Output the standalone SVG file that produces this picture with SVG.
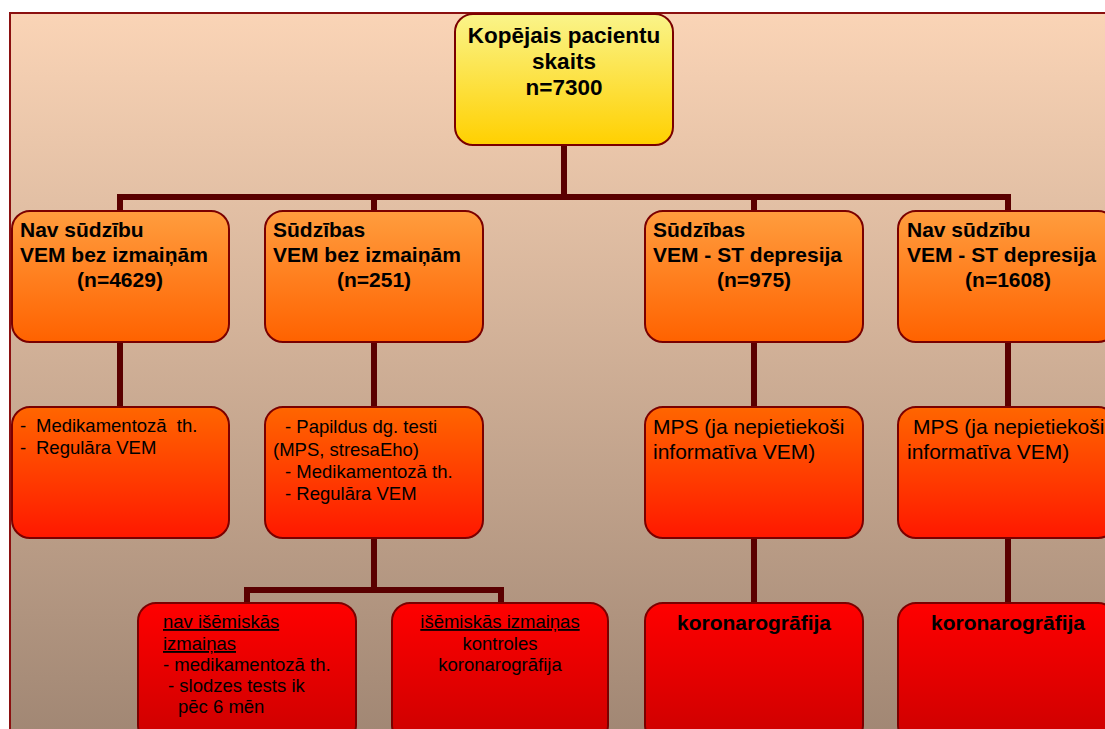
<svg xmlns="http://www.w3.org/2000/svg" width="1105" height="729" viewBox="0 0 1105 729">
<style>
.b{font-family:"Liberation Sans",Arial,sans-serif;font-weight:bold;fill:#000}
.r{font-family:"Liberation Sans",Arial,sans-serif;fill:#000;white-space:pre}
.box{stroke:#7a0000;stroke-width:2}
.con{stroke:#5a0000;stroke-width:6;fill:none;stroke-linejoin:miter}
.u{text-decoration:underline}
</style>
<defs>
<linearGradient id="bg" x1="0" y1="0" x2="0" y2="1"><stop offset="0" stop-color="#FAD4B6"/><stop offset="1" stop-color="#A08673"/></linearGradient>
<linearGradient id="gy" x1="0" y1="0" x2="0" y2="1"><stop offset="0" stop-color="#FAF48A"/><stop offset="1" stop-color="#FFD000"/></linearGradient>
<linearGradient id="g1" x1="0" y1="0" x2="0" y2="1"><stop offset="0" stop-color="#FF9D3E"/><stop offset="1" stop-color="#FF6200"/></linearGradient>
<linearGradient id="g2" x1="0" y1="0" x2="0" y2="1"><stop offset="0" stop-color="#FF6600"/><stop offset="1" stop-color="#FF1800"/></linearGradient>
<linearGradient id="g3" x1="0" y1="0" x2="0" y2="1"><stop offset="0" stop-color="#FF0000"/><stop offset="1" stop-color="#CC0000"/></linearGradient>
</defs>
<rect x="0" y="0" width="1105" height="729" fill="#fff"/>
<rect x="10" y="13" width="1100" height="730" fill="url(#bg)" stroke="#8b1010" stroke-width="2"/>
<g id="connectors">
<path class="con" d="M564 145V197"/>
<path class="con" d="M120 211V197H1008V211"/>
<path class="con" d="M374 197V211M754 197V211"/>
<path class="con" d="M120 342V407M374 342V407M754 342V407M1008 342V407"/>
<path class="con" d="M374 538V590"/>
<path class="con" d="M247 603V590H501V603"/>
<path class="con" d="M754 538V603M1008 538V603"/>
</g>
<g id="root">
<rect class="box" x="455" y="14" width="218" height="131" rx="18" fill="url(#gy)"/>
<text class="b" font-size="22.5" text-anchor="middle"><tspan x="564" y="43">Kopējais pacientu</tspan><tspan x="564" y="69">skaits</tspan><tspan x="564" y="95">n=7300</tspan></text>
</g>
<g id="n1">
<rect class="box" x="12" y="211" width="217" height="131" rx="18" fill="url(#g1)"/>
<text class="b" font-size="21"><tspan x="20" y="237">Nav sūdzību</tspan><tspan x="20" y="262">VEM bez izmaiņām</tspan><tspan x="120" y="287" text-anchor="middle">(n=4629)</tspan></text>
</g>
<g id="n2">
<rect class="box" x="265" y="211" width="218" height="131" rx="18" fill="url(#g1)"/>
<text class="b" font-size="21"><tspan x="273" y="237">Sūdzības</tspan><tspan x="273" y="262">VEM bez izmaiņām</tspan><tspan x="374" y="287" text-anchor="middle">(n=251)</tspan></text>
</g>
<g id="n3">
<rect class="box" x="645" y="211" width="218" height="131" rx="18" fill="url(#g1)"/>
<text class="b" font-size="21"><tspan x="653" y="237">Sūdzības</tspan><tspan x="653" y="262">VEM - ST depresija</tspan><tspan x="754" y="287" text-anchor="middle">(n=975)</tspan></text>
</g>
<g id="n4">
<rect class="box" x="898" y="211" width="218" height="131" rx="18" fill="url(#g1)"/>
<text class="b" font-size="21"><tspan x="907" y="237">Nav sūdzību</tspan><tspan x="907" y="262">VEM - ST depresija</tspan><tspan x="1008" y="287" text-anchor="middle">(n=1608)</tspan></text>
</g>
<g id="n5">
<rect class="box" x="12" y="407" width="217" height="131" rx="18" fill="url(#g2)"/>
<text class="r" font-size="18.5"><tspan x="20" y="432">-</tspan><tspan x="36" y="432">Medikamentozā  th.</tspan><tspan x="20" y="454">-</tspan><tspan x="36" y="454">Regulāra VEM</tspan></text>
</g>
<g id="n6">
<rect class="box" x="265" y="407" width="218" height="131" rx="18" fill="url(#g2)"/>
<text class="r" font-size="18.5"><tspan x="285" y="433">- Papildus dg. testi</tspan><tspan x="273" y="456">(MPS, stresaEho)</tspan><tspan x="285" y="478">- Medikamentozā th.</tspan><tspan x="285" y="500">- Regulāra VEM</tspan></text>
</g>
<g id="n7">
<rect class="box" x="645" y="407" width="218" height="131" rx="18" fill="url(#g2)"/>
<text class="r" font-size="21"><tspan x="653" y="434">MPS (ja nepietiekoši</tspan><tspan x="653" y="459">informatīva VEM)</tspan></text>
</g>
<g id="n8">
<rect class="box" x="898" y="407" width="218" height="131" rx="18" fill="url(#g2)"/>
<text class="r" font-size="21"><tspan x="913" y="434">MPS (ja nepietiekoši</tspan><tspan x="907" y="459">informatīva VEM)</tspan></text>
</g>
<g id="n9">
<rect class="box" x="138" y="603" width="218" height="140" rx="18" fill="url(#g3)"/>
<text class="r" font-size="18.5"><tspan x="163" y="628" class="u">nav išēmiskās</tspan><tspan x="163" y="650" class="u">izmaiņas</tspan><tspan x="163" y="671">- medikamentozā th.</tspan><tspan x="168" y="692">- slodzes tests ik</tspan><tspan x="178" y="713">pēc 6 mēn</tspan></text>
</g>
<g id="n10">
<rect class="box" x="392" y="603" width="216" height="140" rx="18" fill="url(#g3)"/>
<text class="r" font-size="18.5" text-anchor="middle"><tspan x="500" y="628" class="u">išēmiskās izmaiņas</tspan><tspan x="500" y="650">kontroles</tspan><tspan x="500" y="671">koronarogrāfija</tspan></text>
</g>
<g id="n11">
<rect class="box" x="645" y="603" width="218" height="140" rx="18" fill="url(#g3)"/>
<text class="b" font-size="21" text-anchor="middle" x="754" y="630">koronarogrāfija</text>
</g>
<g id="n12">
<rect class="box" x="898" y="603" width="218" height="140" rx="18" fill="url(#g3)"/>
<text class="b" font-size="21" text-anchor="middle" x="1008" y="630">koronarogrāfija</text>
</g>
</svg>
